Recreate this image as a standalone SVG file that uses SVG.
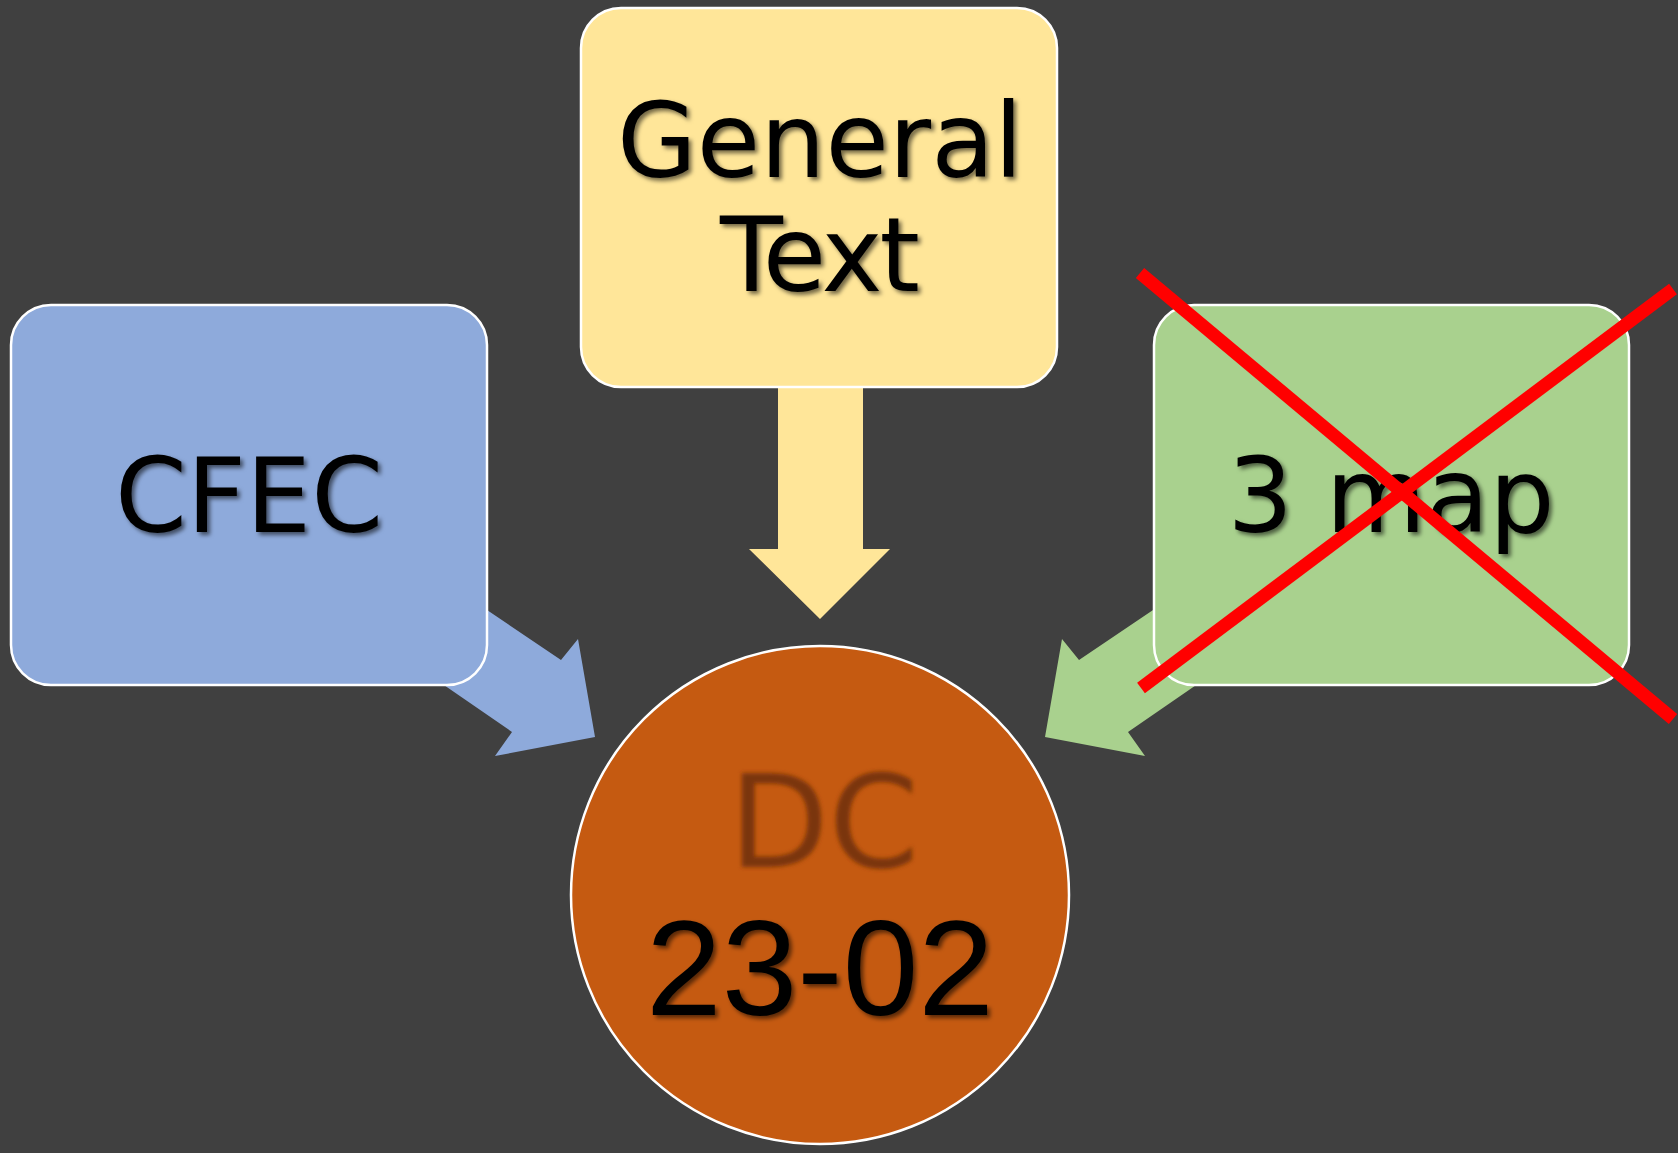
<svg xmlns="http://www.w3.org/2000/svg" width="1678" height="1153" viewBox="0 0 1678 1153">
  <defs>
    <style>
      .box { stroke: #ffffff; stroke-width: 2.5; }
      .lbl { font-family: "DejaVu Sans", "Liberation Sans", sans-serif; fill: #000000; text-anchor: middle; filter: url(#shadow); }
      .num { font-family: "Liberation Sans", Arial, sans-serif; fill: #000000; text-anchor: middle; filter: url(#shadow); }
      .cross { stroke: #ff0000; stroke-width: 13; stroke-linecap: butt; }
    </style>
    <filter id="shadow" x="-10%" y="-10%" width="130%" height="140%">
      <feDropShadow dx="3" dy="3" stdDeviation="2" flood-color="#000000" flood-opacity="0.55"/>
    </filter>
    <filter id="soft" x="-20%" y="-20%" width="140%" height="140%">
      <feGaussianBlur stdDeviation="2.2"/>
    </filter>
  </defs>

  <rect width="1678" height="1153" fill="#404040"/>

  <!-- connectors: block arrows pointing into the centre circle -->
  <g id="connectors">
    <polygon fill="#8eaadb" points="404,554 561,660 578,639 595,737 495,756 512,732 364,630"/>
    <polygon fill="#ffe699" points="778,380 863,380 863,549 890,549 820,619 749,549 778,549"/>
    <polygon fill="#a9d18e" points="1236,554 1079,660 1062,639 1045,737 1145,756 1128,732 1276,630"/>
  </g>

  <g id="node-cfec">
    <rect class="box" x="11" y="305" width="476" height="380" rx="40" fill="#8eaadb"/>
    <text class="lbl" x="249" y="532" font-size="103">CFEC</text>
  </g>

  <g id="node-general-text">
    <rect class="box" x="581" y="8" width="476" height="379" rx="40" fill="#ffe699"/>
    <text class="lbl" x="820" y="177" font-size="103">General</text>
    <text class="lbl" x="820" y="291" font-size="103" textLength="200" lengthAdjust="spacing">Text</text>
  </g>

  <g id="node-3map">
    <rect class="box" x="1154" y="305" width="475" height="380" rx="40" fill="#a9d18e"/>
    <text class="lbl" x="1391" y="532" font-size="103">3 map</text>
    <line class="cross" x1="1140" y1="273" x2="1673" y2="719"/>
    <line class="cross" x1="1673" y1="289" x2="1141" y2="688"/>
  </g>

  <g id="node-dc">
    <circle cx="820" cy="895" r="249" fill="#c55a11" stroke="#ffffff" stroke-width="2.5"/>
    <text x="824" y="867" font-size="129" font-family="DejaVu Sans, sans-serif" text-anchor="middle" fill="#7a3508" filter="url(#soft)">DC</text>
    <text class="num" x="820" y="1015" font-size="136">23-02</text>
  </g>
</svg>
